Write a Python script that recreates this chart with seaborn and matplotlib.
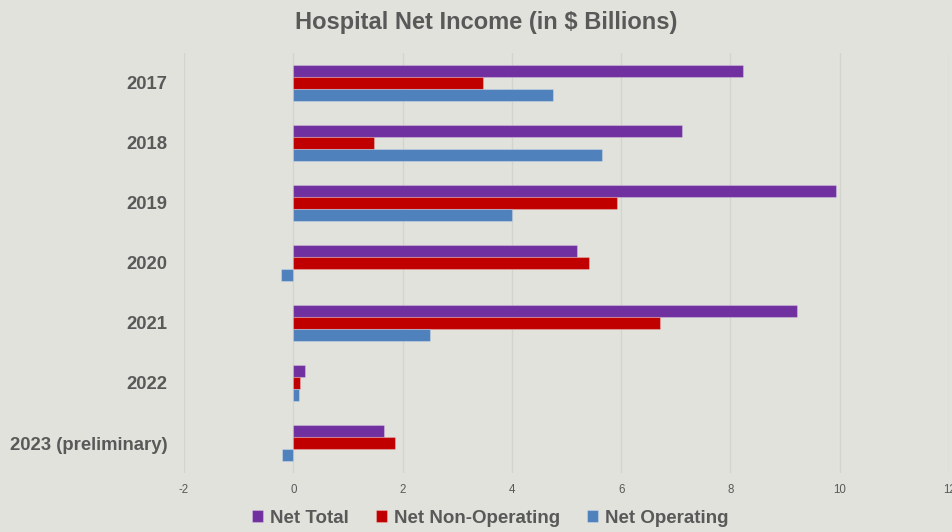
import matplotlib
matplotlib.use("Agg")
import matplotlib.pyplot as plt
import pandas as pd
import seaborn as sns

# Hospital net income by year, in $ billions
years = ["2017", "2018", "2019", "2020", "2021", "2022", "2023 (preliminary)"]
net_total = [8.23, 7.11, 9.93, 5.19, 9.21, 0.21, 1.66]
net_non_operating = [3.47, 1.47, 5.93, 5.41, 6.71, 0.12, 1.86]
net_operating = [4.75, 5.64, 4.00, -0.22, 2.50, 0.10, -0.20]

series_names = ["Net Total", "Net Non-Operating", "Net Operating"]
series_colors = ["#7030a0", "#c00000", "#4f81bd"]
x_ticks = [-2, 0, 2, 4, 6, 8, 10, 12]

df = pd.DataFrame({
    "Year": years * 3,
    "Value": net_total + net_non_operating + net_operating,
    "Series": [s for s in series_names for _ in years],
})

bg = "#e2e2dd"
text_color = "#595959"

sns.set_theme(style="white")
plt.rcParams["font.family"] = ["Liberation Sans", "DejaVu Sans"]

fig = plt.figure(figsize=(9.52, 5.32), dpi=100, facecolor=bg)
ax = fig.add_axes([0.1933, 0.1109, 0.8036, 0.7895], facecolor=bg)

sns.barplot(
    data=df, x="Value", y="Year", hue="Series", orient="h",
    order=years, hue_order=series_names, palette=series_colors,
    saturation=1, width=0.6, gap=0, edgecolor=(1, 1, 1, 0.25),
    linewidth=0.8, ax=ax, legend=True,
)

ax.set_xlim(-2, 12)
ax.set_xticks(x_ticks)
ax.set_xticklabels([str(t) for t in x_ticks])
ax.grid(axis="x", color="#d3d3d0", linewidth=1)
ax.grid(axis="y", visible=False)
ax.set_axisbelow(True)
for spine in ax.spines.values():
    spine.set_visible(False)

ax.set_xlabel("")
ax.set_ylabel("")
ax.tick_params(axis="x", length=0, pad=8, labelsize=8.3, labelcolor=text_color)
ax.tick_params(axis="y", length=0, pad=12, labelsize=13.3, labelcolor=text_color)
for lbl in ax.get_yticklabels():
    lbl.set_fontweight("bold")

handles, labels = ax.get_legend_handles_labels()
ax.get_legend().remove()
leg = fig.legend(
    handles, labels, loc="center", bbox_to_anchor=(0.515, 0.026), ncol=3,
    frameon=False, handlelength=0.6, handleheight=0.6, handletextpad=0.35,
    columnspacing=1.45, prop={"weight": "bold", "size": 13.5},
)
for t in leg.get_texts():
    t.set_color(text_color)

fig.text(0.511, 0.958, "Hospital Net Income (in $ Billions)",
         ha="center", va="center", fontsize=17, weight="bold",
         color=text_color)

fig.savefig("out.png", dpi=100, facecolor=bg)
